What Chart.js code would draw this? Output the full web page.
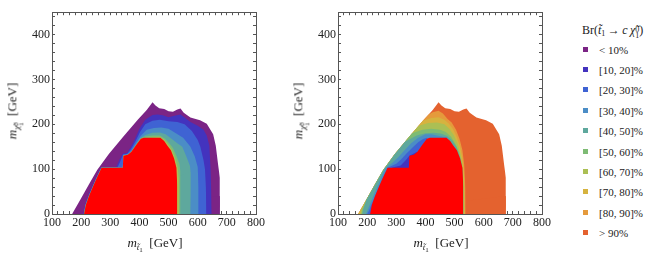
<!DOCTYPE html>
<html><head><meta charset="utf-8">
<script src="https://cdn.jsdelivr.net/npm/chart.js@4.4.1/dist/chart.umd.min.js"></script>
<style>
html,body{margin:0;padding:0;background:#fff;}
body{width:653px;height:262px;position:relative;overflow:hidden;font-family:"Liberation Serif","Times New Roman",serif;color:#222;}
canvas{position:absolute;top:0;}
.ttl{position:absolute;font-size:13px;white-space:nowrap;line-height:1;}
.rot{transform:translate(-50%,-50%) rotate(-90deg);}
.hor{transform:translate(-50%,-50%);}
.ttl sub{font-size:9px;vertical-align:-3px;}
.ttl sub sub{font-size:7px;vertical-align:-2px;}
.ss{display:inline-block;vertical-align:-4px;line-height:0.75;font-size:7px;text-align:left;}
.ss span{display:block;}
#legend{position:absolute;left:0;top:0;}
.lt{position:absolute;left:582px;top:24px;font-size:12px;white-space:nowrap;line-height:1;}
.lt sub{font-size:8px;vertical-align:-2px;}
.lt .ss{font-size:8px;vertical-align:-4px;}
.item{position:absolute;left:583px;height:14px;font-size:11px;line-height:14px;white-space:nowrap;}
.sw{position:absolute;left:0;top:4px;width:5px;height:5px;}
.tx{position:absolute;left:16px;top:0;}
</style></head>
<body>
<canvas id="c1" width="270" height="262" style="left:0px"></canvas>
<canvas id="c2" width="270" height="262" style="left:286px"></canvas>

<div class="ttl rot" style="left:15px;top:111px"><i>m</i><sub><i>χ̃</i><span class="ss"><span>0</span><span>1</span></span></sub>&nbsp;&nbsp;[GeV]</div>
<div class="ttl rot" style="left:301px;top:111px"><i>m</i><sub><i>χ̃</i><span class="ss"><span>0</span><span>1</span></span></sub>&nbsp;&nbsp;[GeV]</div>
<div class="ttl hor" style="left:155px;top:245px"><i>m</i><sub><i>t̃</i><sub>1</sub></sub>&nbsp;&nbsp;[GeV]</div>
<div class="ttl hor" style="left:441px;top:245px"><i>m</i><sub><i>t̃</i><sub>1</sub></sub>&nbsp;&nbsp;[GeV]</div>

<div id="legend">
  <div class="lt">Br(<i>t̃</i><sub>1</sub>&thinsp;→&thinsp;<i>c</i>&thinsp;<i>χ̃</i><span class="ss"><span>0</span><span>1</span></span>)</div>
</div>

<script>
// ---- legend bins ----
const binLabels = ['< 10%','[10, 20]%','[20, 30]%','[30, 40]%','[40, 50]%','[50, 60]%','[60, 70]%','[70, 80]%','[80, 90]%','> 90%'];
const binColors = ['#7b2485','#4333be','#3f63d3','#4b8dc6','#5ea89d','#7ebb74','#abbf54','#d6b33f','#e59a3c','#e4622f'];
const excludedColor = '#ff0000';

// ---- axes ----
const xRange = [100, 800];
const yRange = [0, 450];
const xTickLabels = [100,200,300,400,500,600,700,800];
const yTickLabels = [0,100,200,300,400];
const minorStep = 20;

// ---- region boundaries [m_stop, m_neutralino] (GeV) ----
const outerEdge = [[169,0],[198,33],[226,65],[255,98],[295,134],[345,173],[395,211],[425,232],[445,249],[455,242],[468,236],[485,234],[500,229],[515,228],[530,233],[541,235],[552,226],[575,215],[608,209],[631,201],[653,178],[662,152],[670,110],[676,81],[677,40],[676,0]];
const excludedZone = [[210,0],[216,20],[227,40],[240,60],[252,78],[262,92],[270,103],[343,103],[345,130],[360,132],[372,138],[390,155],[405,168],[415,170],[472,170],[485,163],[496,152],[508,142],[519,124],[527,103],[530,60],[530,0]];

// left panel: boundary of Br >= 10%, 20%, ... 60%
const leftBr10 = [[207,0],[213.5,20],[224.5,40],[237.5,60],[249.5,78],[259.5,92],[268,104.5],[320,104.5],[332,122],[343,135],[357,136],[370,149],[385,168],[400,190],[420,210],[445,221],[462,222],[480,220],[500,216],[520,219],[541,222],[555,215],[575,205],[600,197],[620,188],[631,175],[640,152],[644,100],[646,60],[648,0]];
const leftBr20 = [[208,0],[214.5,20],[225.5,40],[238.5,60],[250.5,78],[260.5,92],[269,104],[325,104],[335,118],[344,133],[358,134.5],[371,145],[387,163],[402,183],[420,200],[445,208],[470,210],[500,207],[530,205],[555,200],[580,185],[600,165],[609,150],[620,120],[625,100],[628,60],[630,0]];
const leftBr30 = [[209,0],[215,20],[226,40],[239,60],[251,78],[261,92],[269.5,103.5],[342.5,103.5],[344.5,131.5],[359,133.5],[372,141],[389,159],[404,174],[425,188],[450,192],[475,193],[500,190],[525,180],[550,170],[575,150],[590,128],[600,105],[603,60],[603,0]];
const leftBr40 = [[209.5,0],[215.5,20],[226.5,40],[239.5,60],[251.5,78],[261.5,92],[270,103.2],[343,103.2],[345,130.5],[360,132.5],[372,139],[390,156.5],[405,170],[420,176],[445,181],[470,182],[490,178],[510,168],[530,158],[547,150],[560,130],[572,110],[578,95],[578,60],[575,0]];
const leftBr50 = [[210,0],[216,20],[227,40],[240,60],[252,78],[262,92],[270,103.1],[343,103.1],[345,130.2],[360,132.2],[372,138.5],[390,155.5],[405,169],[420,173],[445,175],[470,175],[488,168],[503,157],[515,147],[527,130],[537,112],[541,95],[541,0]];
const leftBr60 = [[330,0],[343,103.05],[345,130.1],[360,132.1],[372,138.2],[390,155.2],[405,168.5],[470,171.5],[486,165],[500,154],[511,143],[522,126],[531,105],[535,80],[536,0]];

// right panel: boundary of Br < 90%, 80%, ... 20%
const rightBr90 = [[169,0],[198,33],[226,65],[255,98],[295,134],[345,173],[395,211],[411,222],[425,227],[445,230],[460,224],[476,212],[490,204],[505,188],[517,168],[527,142],[533,110],[537,60],[538,0]];
const rightBr80 = [[169,0],[198,33],[226,65],[255,98],[295,134],[345,173],[391,208],[420,214],[445,216],[465,210],[480,202],[495,189],[508,171],[519,150],[527,125],[532,95],[535,50],[536,0]];
const rightBr70 = [[176,0],[180,10],[198,33],[226,65],[255,98],[295,134],[345,173],[377,197],[410,203],[440,204],[465,200],[482,190],[497,176],[510,157],[520,135],[528,105],[532,60],[533,0]];
const rightBr60 = [[180,0],[184,10],[198,33],[226,65],[255,98],[295,134],[345,173],[354,180],[390,188],[420,190],[450,188],[470,183],[488,172],[503,156],[515,138],[524,115],[529,80],[531,0]];
const rightBr50 = [[183,0],[187,11],[198,32],[226,64],[255,97],[295,133],[330,161],[370,175],[400,180],[430,181],[455,179],[475,174],[492,164],[506,150],[518,128],[526,102],[529,60],[529,0]];
const rightBr40 = [[196,0],[204,12],[215,30],[228,50],[240,68],[246,78],[256,92],[264,103],[285,113],[306,126],[330,143],[350,157],[375,170],[400,178],[420,178],[440,175],[460,172],[475,171],[480,150],[500,0]];
const rightBr30 = [[200,0],[207,8],[214,20],[225,37],[237,55],[250,74],[260,89],[266,97],[272,103.5],[300,112],[317,122],[335,135],[355,148],[375,160],[392,167],[405,170],[415,140],[430,0]];
const rightBr20 = [[285,103],[315,108],[334,121],[345,130],[360,135],[372,139],[378,0]];

const leftLayers = [
  [outerEdge, binColors[0]], [leftBr10, binColors[1]], [leftBr20, binColors[2]], [leftBr30, binColors[3]],
  [leftBr40, binColors[4]], [leftBr50, binColors[5]], [leftBr60, binColors[6]], [excludedZone, excludedColor]
];
const rightLayers = [
  [outerEdge, binColors[9]], [rightBr90, binColors[8]], [rightBr80, binColors[7]], [rightBr70, binColors[6]],
  [rightBr60, binColors[5]], [rightBr50, binColors[4]], [rightBr40, binColors[3]], [rightBr30, binColors[2]],
  [rightBr20, binColors[1]], [excludedZone, excludedColor]
];

// ---- legend rows ----
const legendEl = document.getElementById('legend');
binLabels.forEach((lab, i) => {
  const row = document.createElement('div');
  row.className = 'item';
  row.style.top = (42.5 + 20.4 * i) + 'px';
  const sw = document.createElement('span'); sw.className = 'sw'; sw.style.background = binColors[i];
  const tx = document.createElement('span'); tx.className = 'tx'; tx.textContent = lab;
  row.appendChild(sw); row.appendChild(tx);
  legendEl.appendChild(row);
});

const frameColor = '#555';
const tickFont = {family: 'Liberation Serif', size: 12};

function axis(pos, range, labels, isX, showLabels) {
  return {
    type: 'linear', position: pos, min: range[0], max: range[1],
    afterFit(s) {
      if (pos === 'bottom') s.height = 48;
      else if (pos === 'left') s.width = 52;
      else if (pos === 'top') s.height = 0;
      else s.width = 0;
    },
    ticks: {
      stepSize: minorStep, autoSkip: false, maxRotation: 0, includeBounds: false,
      padding: 5, color: '#222', font: tickFont,
      callback: v => (showLabels && labels.includes(v)) ? String(v) : ''
    },
    grid: {drawOnChartArea: false, drawTicks: true, tickLength: -3, color: frameColor, tickColor: frameColor, lineWidth: 1},
    border: {display: true, color: frameColor, width: 1}
  };
}

function makeChart(id, layers) {
  const n = layers.length;
  return new Chart(document.getElementById(id), {
    type: 'line',
    data: {
      datasets: layers.map((L, i) => ({
        data: L[0].map(p => ({x: p[0], y: p[1]})),
        backgroundColor: L[1], borderColor: 'rgba(0,0,0,0)', borderWidth: 0,
        pointRadius: 0, pointHoverRadius: 0, fill: 'origin', tension: 0, order: n - i
      }))
    },
    options: {
      responsive: false, animation: false, devicePixelRatio: 1,
      layout: {padding: {top: 7, right: 10, left: 0, bottom: 0}},
      plugins: {legend: {display: false}, tooltip: {enabled: false}},
      events: [],
      scales: {
        x: axis('bottom', xRange, xTickLabels, true, true),
        x2: axis('top', xRange, xTickLabels, true, false),
        y: axis('left', yRange, yTickLabels, false, true),
        y2: axis('right', yRange, yTickLabels, false, false)
      }
    }
  });
}

makeChart('c1', leftLayers);
makeChart('c2', rightLayers);
</script>
</body></html>
